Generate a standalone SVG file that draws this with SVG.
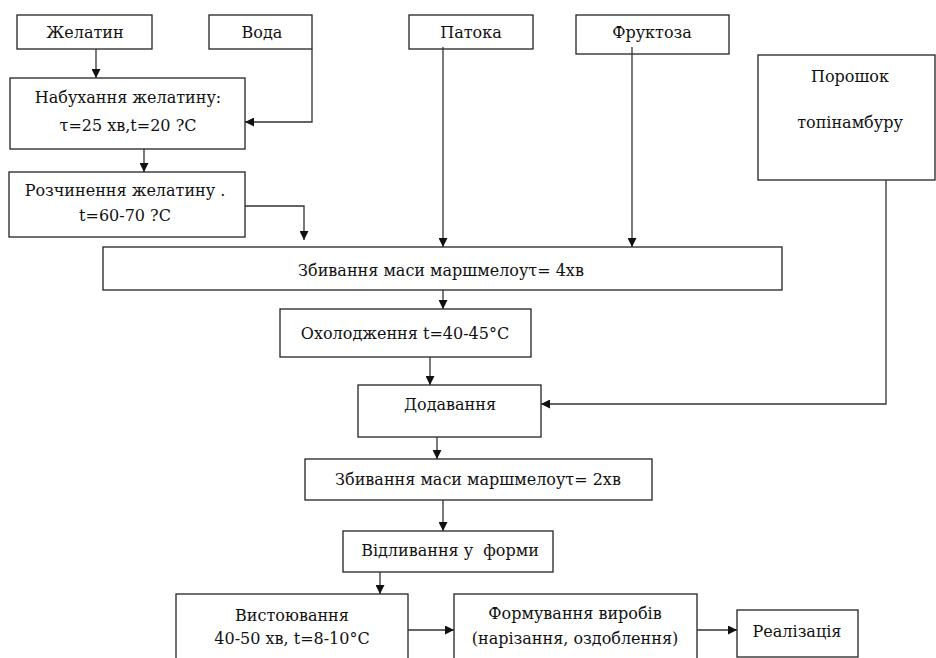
<svg xmlns="http://www.w3.org/2000/svg" width="936" height="658" viewBox="0 0 936 658">
<style>
.b{fill:#fff;stroke:#222;stroke-width:1.3}
.t{font-family:'DejaVu Serif','Liberation Serif',serif;font-size:16px;fill:#111;text-anchor:middle}
.c{fill:none;stroke:#333;stroke-width:1.3}
</style>
<defs>
<marker id="a" viewBox="0 0 10 10" refX="10" refY="5" markerWidth="9" markerHeight="9" markerUnits="userSpaceOnUse" orient="auto"><path d="M0,0 L10,5 L0,10 z" fill="#111"/></marker>
</defs>
<rect width="936" height="658" fill="#fff"/>
<g id="n1"><rect class="b" x="17" y="15" width="135" height="34"/><text class="t" x="85" y="38">Желатин</text></g>
<g id="n2"><rect class="b" x="209" y="15" width="103" height="34"/><text class="t" x="262" y="38">Вода</text></g>
<g id="n3"><rect class="b" x="409" y="15" width="124" height="34"/><text class="t" x="471" y="38">Патока</text></g>
<g id="n4"><rect class="b" x="576" y="15" width="153" height="39"/><text class="t" x="652" y="38">Фруктоза</text></g>
<g id="n5"><rect class="b" x="758" y="55" width="177" height="125"/><text class="t" x="850" y="82">Порошок</text><text class="t" x="850" y="128">топінамбуру</text></g>
<g id="n6"><rect class="b" x="10" y="78" width="235" height="71"/><text class="t" x="128" y="103">Набухання желатину:</text><text class="t" x="128" y="131">τ=25 хв,t=20 ?С</text></g>
<g id="n7"><rect class="b" x="9" y="172" width="236" height="65"/><text class="t" x="125" y="196">Розчинення желатину .</text><text class="t" x="125" y="221">t=60-70 ?С</text></g>
<g id="n8"><rect class="b" x="103" y="247" width="679" height="43"/><text class="t" x="441" y="276">Збивання маси маршмелоуτ= 4хв</text></g>
<g id="n9"><rect class="b" x="280" y="309" width="251" height="48"/><text class="t" x="405" y="339">Охолодження t=40-45°С</text></g>
<g id="n10"><rect class="b" x="358" y="385" width="183" height="52"/><text class="t" x="450" y="410">Додавання</text></g>
<g id="n11"><rect class="b" x="305" y="459" width="347" height="41"/><text class="t" x="478" y="485">Збивання маси маршмелоуτ= 2хв</text></g>
<g id="n12"><rect class="b" x="343" y="531" width="210" height="41"/><text class="t" x="450" y="556" xml:space="preserve">Відливання у  форми</text></g>
<g id="n13"><rect class="b" x="176" y="594" width="232" height="70"/><text class="t" x="292" y="621">Вистоювання</text><text class="t" x="292" y="644">40-50 хв, t=8-10°С</text></g>
<g id="n14"><rect class="b" x="454" y="594" width="243" height="70"/><text class="t" x="575" y="619">Формування виробів</text><text class="t" x="575" y="644">(нарізання, оздоблення)</text></g>
<g id="n15"><rect class="b" x="737" y="610" width="121" height="47"/><text class="t" x="797" y="637">Реалізація</text></g>
<g id="connectors">
<path class="c" d="M96,49 V78" marker-end="url(#a)"/>
<path class="c" d="M312,49 V122 H245" marker-end="url(#a)"/>
<path class="c" d="M144,149 V172" marker-end="url(#a)"/>
<path class="c" d="M245,206 H304 V240" marker-end="url(#a)"/>
<path class="c" d="M443,47 V247" marker-end="url(#a)"/>
<path class="c" d="M632,47 V247" marker-end="url(#a)"/>
<path class="c" d="M443,290 V309" marker-end="url(#a)"/>
<path class="c" d="M430,357 V385" marker-end="url(#a)"/>
<path class="c" d="M886,180 V404 H541" marker-end="url(#a)"/>
<path class="c" d="M437,437 V459" marker-end="url(#a)"/>
<path class="c" d="M443,500 V531" marker-end="url(#a)"/>
<path class="c" d="M380,572 V594" marker-end="url(#a)"/>
<path class="c" d="M408,630 H454" marker-end="url(#a)"/>
<path class="c" d="M697,630 H737" marker-end="url(#a)"/>
</g>
</svg>
